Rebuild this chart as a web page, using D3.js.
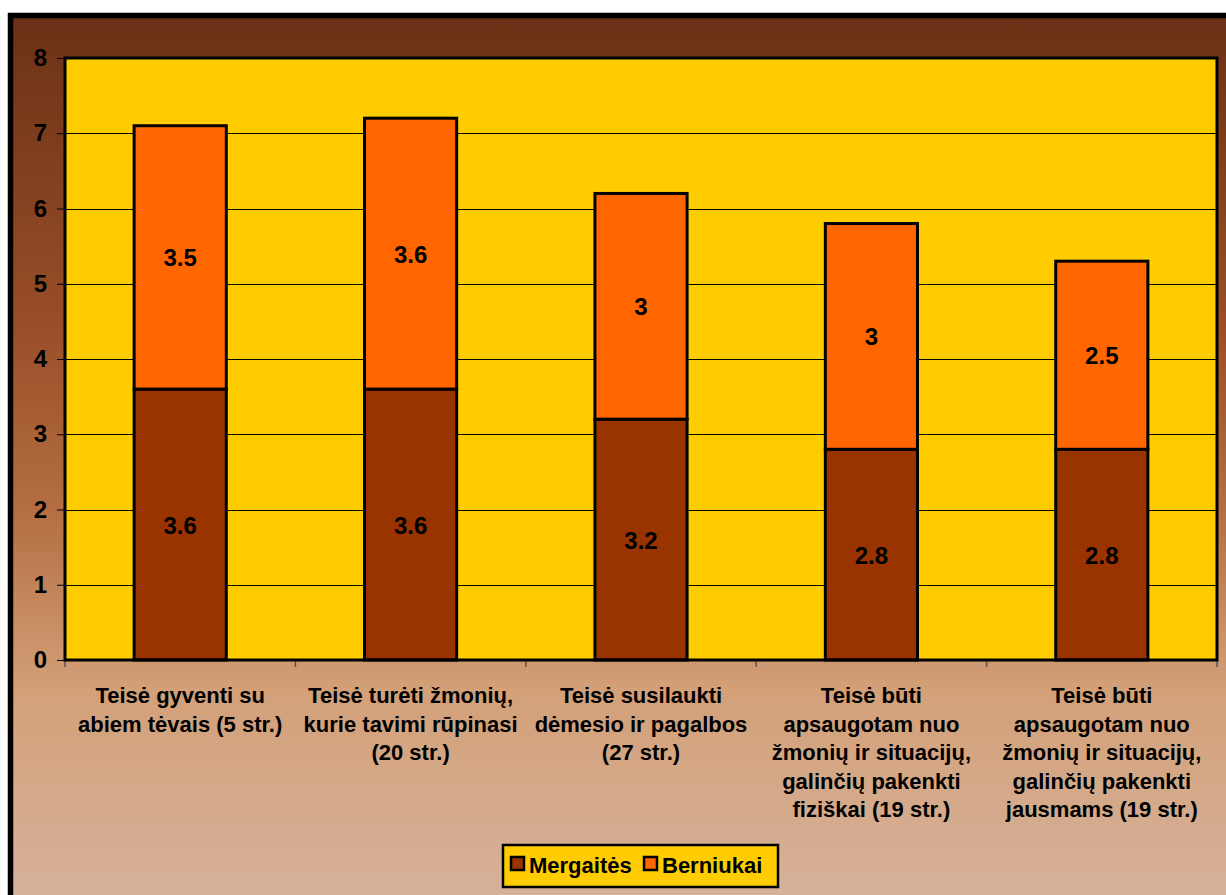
<!DOCTYPE html>
<html><head><meta charset="utf-8">
<script src="https://cdn.jsdelivr.net/npm/d3@7"></script>
<style>html,body{margin:0;padding:0;background:#fff;}svg{display:block;}</style>
</head><body>
<svg id="chart" width="1226" height="895"></svg>
<script>
const categories = [
  ["Teisė gyventi su", "abiem tėvais (5 str.)"],
  ["Teisė turėti žmonių,", "kurie tavimi rūpinasi", "(20 str.)"],
  ["Teisė susilaukti", "dėmesio ir pagalbos", "(27 str.)"],
  ["Teisė būti", "apsaugotam nuo", "žmonių ir situacijų,", "galinčių pakenkti", "fiziškai (19 str.)"],
  ["Teisė būti", "apsaugotam nuo", "žmonių ir situacijų,", "galinčių pakenkti", "jausmams (19 str.)"]
];
const seriesNames = ["Mergaitės", "Berniukai"];
const mergaites = [3.6, 3.6, 3.2, 2.8, 2.8];
const berniukai = [3.5, 3.6, 3, 3, 2.5];
const yTicks = [0, 1, 2, 3, 4, 5, 6, 7, 8];
const colors = ["#993300", "#FF6600"];

const svg = d3.select("#chart");
const font = "'Liberation Sans', Arial, sans-serif";

// background gradient
const defs = svg.append("defs");
const grad = defs.append("linearGradient").attr("id", "bg").attr("x1", 0).attr("y1", 0).attr("x2", 0).attr("y2", 1);
[["0%", "#6A3116"], ["35%", "#9A4F28"], ["55%", "#B46E42"], ["75%", "#D3A078"], ["100%", "#D6B39D"]]
  .forEach(([o, c]) => grad.append("stop").attr("offset", o).attr("stop-color", c));

svg.append("rect").attr("x", 10.5).attr("y", 15.5).attr("width", 1240).attr("height", 900)
  .attr("fill", "url(#bg)").attr("stroke", "#000").attr("stroke-width", 5.5);

const plot = { left: 65, right: 1217, top: 58, bottom: 660 };

const x = d3.scaleBand().domain(d3.range(categories.length)).range([plot.left, plot.right]).paddingInner(0).paddingOuter(0);
const y = d3.scaleLinear().domain([0, 8]).range([plot.bottom, plot.top]);

// plot area
svg.append("rect").attr("x", plot.left).attr("y", plot.top).attr("width", plot.right - plot.left)
  .attr("height", plot.bottom - plot.top).attr("fill", "#FFCC00");

// gridlines
svg.append("g").selectAll("line").data(yTicks.filter(d => d > 0 && d < 8)).join("line")
  .attr("x1", plot.left).attr("x2", plot.right).attr("y1", d => Math.round(y(d)) + 0.5).attr("y2", d => Math.round(y(d)) + 0.5)
  .attr("stroke", "#000").attr("stroke-width", 1);

// y axis
const yAxis = d3.axisLeft(y).tickValues(yTicks).tickSize(8).tickPadding(10).tickFormat(d3.format("d"));
const yg = svg.append("g").attr("transform", `translate(${plot.left},0)`).call(yAxis);
yg.select(".domain").remove();
yg.selectAll(".tick line").attr("stroke", "#000");
yg.selectAll(".tick text").attr("font-family", font).attr("font-weight", "bold").attr("font-size", 24).attr("fill", "#000");

// x axis ticks at category boundaries
const bounds = d3.range(categories.length + 1).map(i => plot.left + i * x.step());
svg.append("g").selectAll("line").data(bounds).join("line")
  .attr("x1", d => d).attr("x2", d => d).attr("y1", plot.bottom).attr("y2", plot.bottom + 7)
  .attr("stroke", "#555").attr("stroke-width", 1.5);

// stacked bars
const stackData = categories.map((c, i) => ({ i, m: mergaites[i], b: berniukai[i] }));
const stack = d3.stack().keys(["m", "b"])(stackData);
const bw = x.bandwidth() * 0.4;
const layers = svg.append("g").selectAll("g").data(stack).join("g").attr("fill", (d, k) => colors[k]);
layers.selectAll("rect").data(d => d).join("rect")
  .attr("x", d => x(d.data.i) + (x.bandwidth() - bw) / 2)
  .attr("y", d => y(d[1]))
  .attr("width", bw)
  .attr("height", d => y(d[0]) - y(d[1]))
  .attr("stroke", "#000").attr("stroke-width", 3);

// data labels
layers.selectAll("text").data(d => d).join("text")
  .attr("x", d => x(d.data.i) + x.bandwidth() / 2)
  .attr("y", d => (y(d[0]) + y(d[1])) / 2 + 9)
  .attr("text-anchor", "middle").attr("font-family", font).attr("font-weight", "bold").attr("font-size", 24)
  .attr("fill", "#000")
  .text(d => d[1] - d[0] === Math.round(d[1] - d[0]) ? d3.format("d")(Math.round(d[1] - d[0])) : d3.format(".1f")(d[1] - d[0]));

// plot border
svg.append("rect").attr("x", plot.left).attr("y", plot.top).attr("width", plot.right - plot.left)
  .attr("height", plot.bottom - plot.top).attr("fill", "none").attr("stroke", "#000").attr("stroke-width", 3);

// x labels
const xl = svg.append("g").selectAll("text").data(categories).join("text")
  .attr("x", (d, i) => x(i) + x.bandwidth() / 2)
  .attr("y", 703)
  .attr("text-anchor", "middle").attr("font-family", font).attr("font-weight", "bold").attr("font-size", 22).attr("fill", "#000");
xl.selectAll("tspan").data(d => d).join("tspan")
  .attr("x", function () { return this.parentNode.getAttribute("x"); })
  .attr("dy", (d, j) => j === 0 ? 0 : 28.5)
  .text(d => d);

// legend
const lg = svg.append("g");
lg.append("rect").attr("x", 503).attr("y", 845).attr("width", 275).attr("height", 42)
  .attr("fill", "#FFCC00").attr("stroke", "#000").attr("stroke-width", 2.5);
const items = [{ name: seriesNames[0], x: 511, c: colors[0] }, { name: seriesNames[1], x: 644, c: colors[1] }];
items.forEach(it => {
  lg.append("rect").attr("x", it.x).attr("y", 857).attr("width", 13).attr("height", 13)
    .attr("fill", it.c).attr("stroke", "#000").attr("stroke-width", 2.5);
  lg.append("text").attr("x", it.x + 18).attr("y", 873).attr("font-family", font).attr("font-weight", "bold")
    .attr("font-size", 22).attr("fill", "#000").text(it.name);
});
</script>
</body></html>
